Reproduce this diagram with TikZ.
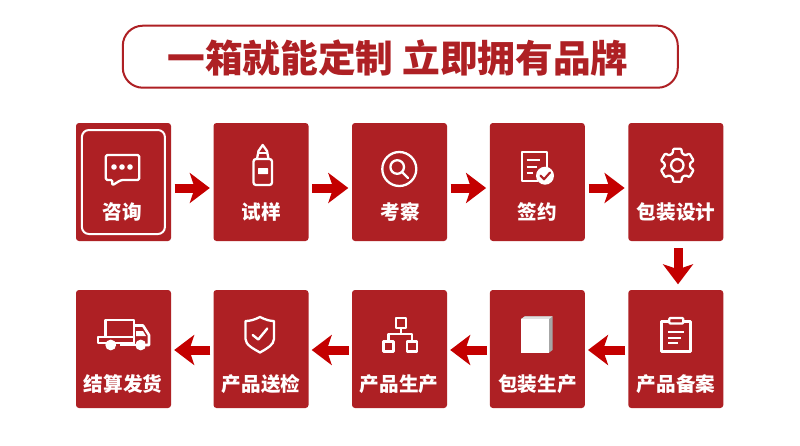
\documentclass[tikz,border=0pt]{standalone}
\usepackage{fontspec}
\setmainfont{Noto Sans CJK SC}
\usetikzlibrary{arrows.meta}
\definecolor{boxred}{HTML}{AE2024}
\definecolor{arrowred}{HTML}{C40000}
\tikzset{
  stepbox/.style={fill=boxred,rounded corners=3pt,minimum width=95pt,minimum height=118pt,inner sep=0pt,draw=none},
  steplabel/.style={text=white,font=\fontsize{19.6}{21}\selectfont\bfseries,inner sep=0pt},
  flow/.style={draw=arrowred,line width=9pt,-{Stealth[length=20pt,width=30pt,inset=5pt]}},
  ico/.style={draw=white,line width=2.3pt,line join=round,fill=none},
}
\begin{document}
\begin{tikzpicture}[x=1pt,y=-1pt]
\useasboundingbox (0,0) rectangle (800,445);
\fill[white] (0,0) rectangle (800,445);
% title
\node[draw=boxred,line width=2pt,rounded corners=20pt,minimum width=555pt,minimum height=62pt,inner sep=0pt] (title) at (400.3,56.7) {};
\node[text=boxred,font=\fontsize{37.7}{40}\selectfont\bfseries,inner sep=0pt] (titletext) at (398,58) {一箱就能定制 立即拥有品牌};
% boxes
\node[stepbox] (a1) at (123.5,182) {};
\node[stepbox] (a2) at (261,182) {};
\node[stepbox] (a3) at (399.5,182) {};
\node[stepbox] (a4) at (537.3,182) {};
\node[stepbox] (a5) at (675.8,182) {};
\node[stepbox] (b5) at (675.8,349) {};
\node[stepbox] (b4) at (537.3,349) {};
\node[stepbox] (b3) at (399.5,349) {};
\node[stepbox] (b2) at (261,349) {};
\node[stepbox] (b1) at (123.5,349) {};
\node[draw=white,line width=2pt,rounded corners=7pt,minimum width=83pt,minimum height=104pt,inner sep=0pt] (a1frame) at (123.4,182) {};
% labels
\node[steplabel] (la1) at (122,212) {咨询};
\node[steplabel] (la2) at (261,212) {试样};
\node[steplabel] (la3) at (400,212) {考察};
\node[steplabel] (la4) at (537.5,212) {签约};
\node[steplabel] (la5) at (676,212) {包装设计};
\node[steplabel] (lb5) at (676,384) {产品备案};
\node[steplabel] (lb4) at (537.5,384) {包装生产};
\node[steplabel] (lb3) at (399,384) {产品生产};
\node[steplabel] (lb2) at (261,384) {产品送检};
\node[steplabel] (lb1) at (123,384) {结算发货};
% arrows
\foreach \p/\q in {a1/a2,a2/a3,a3/a4,a4/a5}
  \draw[flow,shorten <=3.5pt,shorten >=3.5pt] ([yshift=-6pt]\p.east) -- ([yshift=-6pt]\q.west);
\draw[flow,shorten <=7pt,shorten >=5.5pt] ([xshift=2.2pt]a5.south) -- ([xshift=2.2pt]b5.north);
\foreach \p/\q in {b5/b4,b4/b3,b3/b2,b2/b1}
  \draw[flow,shorten <=3pt,shorten >=3pt] ([yshift=-1pt]\p.west) -- ([yshift=-1pt]\q.east);
% icon chat
\draw[ico,rounded corners=1.5pt] (105.8,155) -- (139.3,155) -- (139.3,180) -- (121,180) -- (112,185.5) -- (112.5,180) -- (105.8,180) -- cycle;
\foreach \x in {114,122,130} \fill[white] (\x,167) circle (2.8pt);
% icon bottle
\draw[ico,rounded corners=2.5pt] (253.5,159) rectangle (272,185);
\draw[ico] (257,159) -- (258.5,151) -- (262.7,145) -- (267,151) -- (268.5,159);
\draw[ico,line width=1.4pt] (258.5,153) -- (267,153);
\fill[white,rounded corners=0.5pt] (258,168) rectangle (268,174);
% icon search
\draw[ico] (399.3,169) circle (17pt);
\draw[ico] (397.2,167) circle (6.8pt);
\draw[ico,line cap=round] (402,172) -- (408,178);
% icon doc
\draw[ico] (546.7,168) -- (546.7,152) -- (522,152) -- (522,181) -- (538,181);
\foreach \y/\xe in {160/540,166.7/537,173/533} \draw[ico,line width=1.9pt] (526.5,\y) -- (\xe,\y);
\fill[white] (545,175.7) circle (9pt);
\draw[draw=boxred,line width=2.1pt,line cap=round,line join=round] (540.5,175.5) -- (544,179.3) -- (550,172.5);
% icon gear
\begin{scope}[shift={(677.3,165.3)}]
\draw[ico,rounded corners=1pt] (76:17)
  \foreach \a in {90,150,210,270,330,390} { -- (\a+14:17) -- (\a+21:12.8) -- (\a+39:12.8) -- (\a+46:17) } -- cycle;
\draw[ico] (0,0) circle (6.2pt);
\end{scope}
% icon clipboard
\draw[ico] (669.3,321.5) -- (661.5,321.5) -- (661.5,351.5) -- (690.5,351.5) -- (690.5,321.5) -- (683.3,321.5);
\draw[ico,rounded corners=1pt] (669.3,318) rectangle (683.3,323.5);
\draw[ico,line width=1.9pt] (668.3,332.3) -- (684,332.3);
\draw[ico,line width=1.9pt] (668.3,337.8) -- (681,337.8);
\draw[ico,line width=1.9pt] (668.3,343.3) -- (678,343.3);
% icon paper
\fill[black!35] (521,319) -- (525,316.3) -- (552.5,316.3) -- (552.5,350) -- (549,352.7) -- cycle;
\fill[black!12] (521,319) -- (525,316.3) -- (552.5,316.3) -- (549,319) -- cycle;
\fill[white] (521,319) rectangle (549,352.7);
% icon org
\draw[ico] (396,318) rectangle (406,328);
\draw[ico] (383.5,341.5) rectangle (393.5,351.5);
\draw[ico] (406.7,341.5) rectangle (416.7,351.5);
\draw[ico] (401,328) -- (401,334.3);
\draw[ico] (388.5,341.5) -- (388.5,334.3) -- (411.7,334.3) -- (411.7,341.5);
% icon shield
\draw[ico] (260,317) .. controls (266,320) and (270,321) .. (274,321) -- (274,339) .. controls (274,345) and (266,349) .. (260,352.5) .. controls (254,349) and (245.5,345) .. (245.5,339) -- (245.5,321) .. controls (250,321) and (254,320) .. (260,317) -- cycle;
\draw[ico,line cap=round,line width=2.4pt] (252.7,335) -- (258.3,339.5) -- (267.3,328.5);
% icon truck
\draw[ico,line width=2.6pt] (105.5,336.5) -- (105.5,320) -- (134,320) -- (134,345) -- (120,345);
\draw[ico,line width=2.6pt] (134,325.5) -- (143,325.5) -- (149,335) -- (149,345) -- (146,345);
\draw[ico,line width=2.6pt] (98,337) rectangle (134,343);
\fill[white] (136,331) -- (143,331) -- (146,336) -- (136,336) -- cycle;
\draw[ico] (134,345) -- (136,345);
\fill[white] (110.7,345) circle (5.4pt);
\fill[white] (140.7,345) circle (5.4pt);
\end{tikzpicture}
\end{document}
